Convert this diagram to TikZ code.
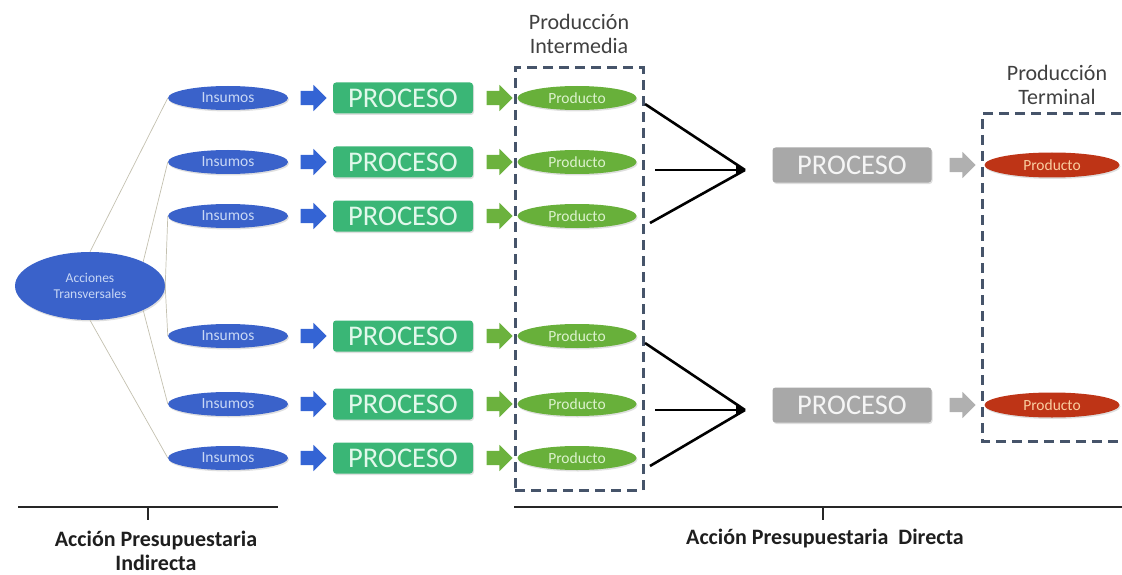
\documentclass[tikz,border=0pt]{standalone}
\usepackage{fontspec}
\setmainfont{Carlito}
\usetikzlibrary{shapes.geometric,shapes.arrows,shadows,arrows.meta,calc}
\definecolor{insblue}{RGB}{58,98,202}
\definecolor{instext}{RGB}{200,215,245}
\definecolor{arrblue}{RGB}{52,100,212}
\definecolor{procgreen}{RGB}{58,182,118}
\definecolor{proctext}{RGB}{225,248,235}
\definecolor{prodgreen}{RGB}{104,176,58}
\definecolor{prodtext}{RGB}{220,242,205}
\definecolor{arrgreen}{RGB}{108,178,62}
\definecolor{procgray}{RGB}{168,168,168}
\definecolor{arrgray}{RGB}{176,176,176}
\definecolor{prodred}{RGB}{190,52,22}
\definecolor{redtext}{RGB}{250,205,160}
\definecolor{dashcol}{RGB}{70,84,106}
\definecolor{thinline}{RGB}{195,192,175}
\definecolor{labtext}{RGB}{64,64,64}
\definecolor{bottext}{RGB}{30,30,30}
\begin{document}
\begin{tikzpicture}[x=1pt,y=-1pt,
  shad/.style={drop shadow={opacity=0.25,shadow xshift=1pt,shadow yshift=-1.5pt}},
  insumo/.style={ellipse,shad,fill=insblue,minimum width=120pt,minimum height=24pt,inner sep=0pt,text=instext,font=\fontsize{15.5}{15.5}\selectfont},
  accion/.style={ellipse,shad,fill=insblue,minimum width=150pt,minimum height=68pt,inner sep=0pt,text=instext,align=center,font=\fontsize{13.5}{16}\selectfont},
  procbox/.style={rectangle,shad,rounded corners=3pt,fill=procgreen,minimum width=140pt,minimum height=31pt,inner sep=0pt,text=proctext,font=\fontsize{28.5}{28.5}\selectfont},
  procgraybox/.style={procbox,fill=procgray,minimum width=159pt,minimum height=35pt,text=white!92!gray},
  prodg/.style={ellipse,shad,fill=prodgreen,minimum width=119pt,minimum height=24pt,inner sep=0pt,text=prodtext,font=\fontsize{15.5}{15.5}\selectfont},
  prodr/.style={prodg,fill=prodred,minimum width=135pt,minimum height=25pt,text=redtext},
  blockarr/.style={single arrow,minimum height=26pt,minimum width=26pt,single arrow head extend=6pt,inner sep=7pt,draw=none},
  thin/.style={draw=thinline,line width=0.7pt},
  conv/.style={draw=black,line width=2.6pt},
  dashbox/.style={draw=dashcol,line width=3pt,dash pattern=on 10pt off 6pt},
  lab/.style={text=labtext,align=center,font=\fontsize{22}{24}\selectfont},
  botlab/.style={text=bottext,align=center,inner sep=0pt,font=\bfseries\fontsize{22}{24}\selectfont},
  rule/.style={draw=black!85,line width=2pt}
]
\useasboundingbox (0,0) rectangle (1122,575);

% Acciones transversales
\node[accion] (at) at (90,286) {Acciones\\Transversales};

% rows
\foreach \i/\y in {1/98,2/162,3/216,4/336,5/404,6/458}{
  \node[insumo] (in\i) at (228,\y) {Insumos};
  \node[blockarr,fill=arrblue] (ba\i) at (310,\y) {};
  \node[procbox] (pr\i) at (403,\y) {PROCESO};
  \node[blockarr,fill=arrgreen] (ga\i) at (496,\y) {};
  \node[prodg] (pg\i) at (577,\y) {Producto};
}

% thin connectors
\draw[thin] (at.north) -- (in1.west);
\draw[thin] (at.north east) -- (in2.west);
\draw[thin] (at.east) -- (in3.west);
\draw[thin] (at.east) -- (in4.west);
\draw[thin] (at.south east) -- (in5.west);
\draw[thin] (at.south) -- (in6.west);

% dashed boxes
\node[dashbox,rectangle,minimum width=128pt,minimum height=422pt,inner sep=0pt] (boxi) at (579,279) {};
\draw[dashbox] (1121,114) -- (982,114) -- (982,441) -- (1121,441);
\coordinate (boxt) at (982,114);

% labels
\node[lab] (labi) at (579,34) {Producción\\Intermedia};
\node[lab] (labt) at (1057,85) {Producción\\Terminal};

% terminal processes
\node[procgraybox] (pq1) at (852,165) {PROCESO};
\node[blockarr,fill=arrgray] (ya1) at (959,165) {};
\node[prodr] (pt1) at (1052,165) {Producto};
\node[procgraybox] (pq2) at (852,405) {PROCESO};
\node[blockarr,fill=arrgray] (ya2) at (959,405) {};
\node[prodr] (pt2) at (1052,405) {Producto};

% convergence
\coordinate (m1) at (745,170);
\coordinate (u1) at (645,104);
\coordinate (u2) at (655,170);
\coordinate (u3) at (650,223);
\draw[conv] (u1) -- (m1);
\draw[conv] (u3) -- (m1);
\draw[conv,-{Triangle[length=9pt,width=10pt]}] (u2) -- (m1);
\coordinate (m2) at (745,410);
\coordinate (l1) at (645,343);
\coordinate (l2) at (655,410);
\coordinate (l3) at (650,466);
\draw[conv] (l1) -- (m2);
\draw[conv] (l3) -- (m2);
\draw[conv,-{Triangle[length=9pt,width=10pt]}] (l2) -- (m2);

% bottom rules
\coordinate (r1a) at (18,507);
\coordinate (r1b) at (278,507);
\coordinate (t1a) at (148,507);
\coordinate (t1b) at (148,520);
\draw[rule] (r1a) -- (r1b);
\draw[rule] (t1a) -- (t1b);
\node[botlab] (bi) at (156,551) {Acción Presupuestaria\\Indirecta};
\coordinate (r2a) at (514,507);
\coordinate (r2b) at (1122,507);
\coordinate (t2a) at (823,507);
\coordinate (t2b) at (823,520);
\draw[rule] (r2a) -- (r2b);
\draw[rule] (t2a) -- (t2b);
\node[botlab] (bd) at (825,539) {Acción Presupuestaria\ \ Directa};
\end{tikzpicture}
\end{document}
